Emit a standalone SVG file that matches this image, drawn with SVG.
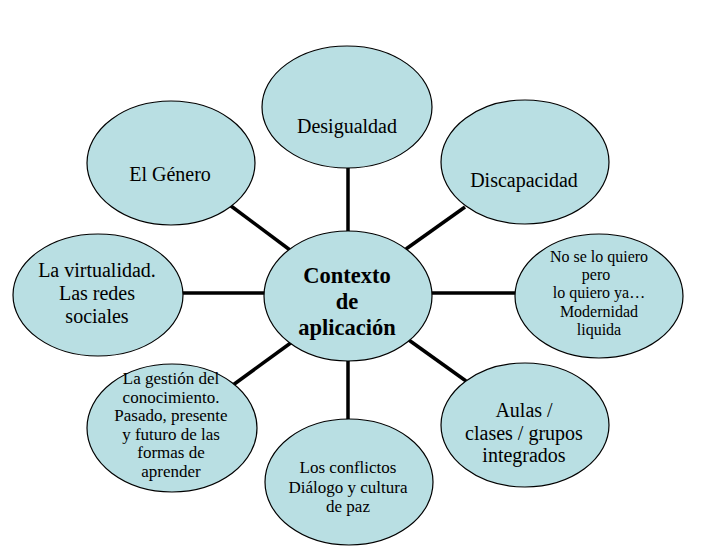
<svg xmlns="http://www.w3.org/2000/svg" width="702" height="550" viewBox="0 0 702 550">
<style>
.n{fill:#b9dfe3;stroke:#000;stroke-width:1.2}
.c line{stroke:#000;stroke-width:3.5}
text{font-family:'Liberation Serif','Times New Roman',Tinos,'DejaVu Serif',serif;fill:#000;text-anchor:middle}
.t20{font-size:20px}
.t17{font-size:17px}
.t16{font-size:16px}
.b{font-size:22.5px;font-weight:bold}
</style>
<rect width="702" height="550" fill="#fff"/>
<g class="c" id="connectors">
<line x1="348" y1="168" x2="348" y2="232"/>
<line x1="348" y1="361" x2="348" y2="420"/>
<line x1="182" y1="293" x2="265" y2="293"/>
<line x1="432" y1="293" x2="515" y2="293"/>
<line x1="231" y1="206" x2="290" y2="250"/>
<line x1="465" y1="207" x2="406" y2="249"/>
<line x1="233" y1="385" x2="292" y2="342"/>
<line x1="466" y1="381" x2="406" y2="338"/>
</g>
<g id="center">
<ellipse class="n" cx="348" cy="296" rx="84" ry="65"/>
<text class="b" x="347" y="283">Contexto</text>
<text class="b" x="347" y="309">de</text>
<text class="b" x="347" y="335">aplicación</text>
</g>
<g id="desigualdad">
<ellipse class="n" cx="347" cy="107" rx="85" ry="61"/>
<text class="t20" x="347" y="133">Desigualdad</text>
</g>
<g id="genero">
<ellipse class="n" cx="171" cy="163" rx="84" ry="62"/>
<text class="t20" x="170" y="181">El Género</text>
</g>
<g id="discapacidad">
<ellipse class="n" cx="525" cy="162" rx="84" ry="62"/>
<text class="t20" x="524" y="187">Discapacidad</text>
</g>
<g id="virtualidad">
<ellipse class="n" cx="98" cy="295" rx="85" ry="61"/>
<text class="t20" x="97" y="277">La virtualidad.</text>
<text class="t20" x="97" y="300">Las redes</text>
<text class="t20" x="97" y="323">sociales</text>
</g>
<g id="modernidad">
<ellipse class="n" cx="599" cy="296" rx="84" ry="62"/>
<text class="t16" x="599" y="262">No se lo quiero</text>
<text class="t16" x="596" y="280">pero</text>
<text class="t16" x="599" y="298">lo quiero ya…</text>
<text class="t16" x="599" y="317">Modernidad</text>
<text class="t16" x="599" y="335">liquida</text>
</g>
<g id="gestion">
<ellipse class="n" cx="172" cy="428" rx="85" ry="64"/>
<text class="t17" x="171" y="384">La gestión del</text>
<text class="t17" x="171" y="403">conocimiento.</text>
<text class="t17" x="171" y="421">Pasado, presente</text>
<text class="t17" x="171" y="440">y futuro de las</text>
<text class="t17" x="171" y="458">formas de</text>
<text class="t17" x="171" y="477">aprender</text>
</g>
<g id="aulas">
<ellipse class="n" cx="525" cy="425" rx="84" ry="62"/>
<text class="t20" x="524" y="417">Aulas /</text>
<text class="t20" x="524" y="440">clases / grupos</text>
<text class="t20" x="524" y="462">integrados</text>
</g>
<g id="conflictos">
<ellipse class="n" cx="349" cy="482" rx="84" ry="63"/>
<text class="t17" x="348" y="473">Los conflictos</text>
<text class="t17" x="348" y="493">Diálogo y cultura</text>
<text class="t17" x="348" y="512">de paz</text>
</g>
</svg>
